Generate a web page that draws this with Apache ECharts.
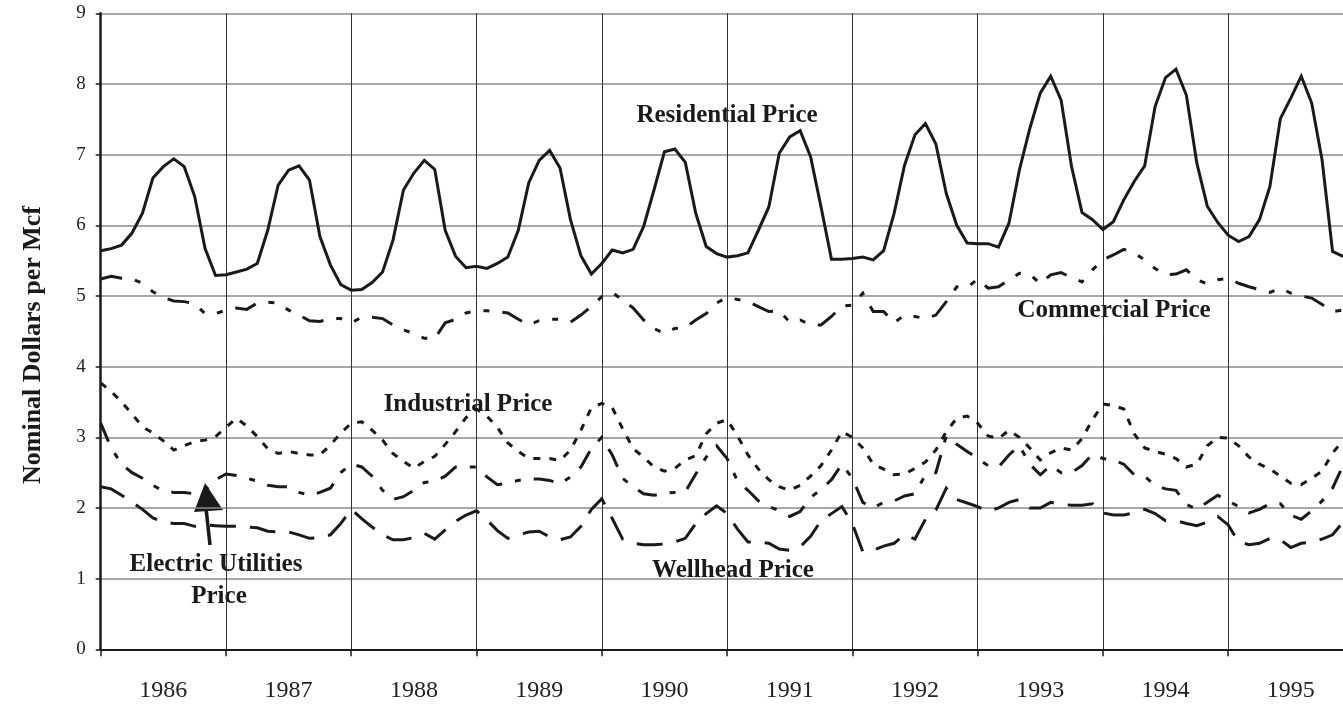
<!DOCTYPE html>
<html>
  <head>
    <meta charset="utf-8" />
    <title>Natural Gas Prices by Sector, 1986-1995</title>
    <script src="https://cdn.jsdelivr.net/npm/echarts@6/dist/echarts.min.js"></script>
    <style>
      html, body { margin: 0; padding: 0; background: #fff; }
    </style>
  </head>
  <body>
    <div id="main" style="width: 1343px; height: 706px"></div>

    <script>
      // monthly values, Jan 1986 - Dec 1995
      var years = ["1986", "1987", "1988", "1989", "1990", "1991", "1992", "1993", "1994", "1995"];
      var months = ["01", "02", "03", "04", "05", "06", "07", "08", "09", "10", "11", "12"];

      var residential = [
        5.64, 5.67, 5.72, 5.89, 6.17, 6.67, 6.83, 6.94, 6.83, 6.41, 5.67, 5.29,
        5.30, 5.34, 5.38, 5.46, 5.93, 6.57, 6.78, 6.84, 6.64, 5.84, 5.44, 5.16,
        5.08, 5.09, 5.19, 5.34, 5.79, 6.50, 6.74, 6.92, 6.79, 5.93, 5.56, 5.40,
        5.42, 5.39, 5.46, 5.55, 5.93, 6.60, 6.92, 7.06, 6.81, 6.08, 5.57, 5.31,
        5.46, 5.65, 5.61, 5.66, 5.98, 6.50, 7.04, 7.08, 6.89, 6.17, 5.70, 5.60,
        5.55, 5.57, 5.61, 5.93, 6.26, 7.02, 7.25, 7.34, 6.97, 6.26, 5.52, 5.52,
        5.53, 5.55, 5.51, 5.64, 6.17, 6.85, 7.28, 7.44, 7.15, 6.45, 6.00, 5.75,
        5.74, 5.74, 5.69, 6.03, 6.78, 7.37, 7.87, 8.11, 7.77, 6.83, 6.18, 6.08,
        5.94, 6.05, 6.36, 6.62, 6.84, 7.68, 8.09, 8.21, 7.84, 6.88, 6.27, 6.04,
        5.86, 5.77, 5.84, 6.08, 6.55, 7.51, 7.80, 8.11, 7.73, 6.92, 5.63, 5.56
      ];
      var commercial = [
        5.24, 5.28, 5.25, 5.24, 5.18, 5.06, 4.98, 4.93, 4.92, 4.89, 4.75, 4.75,
        4.80, 4.83, 4.81, 4.90, 4.91, 4.90, 4.80, 4.73, 4.65, 4.64, 4.68, 4.68,
        4.62, 4.70, 4.70, 4.68, 4.59, 4.52, 4.47, 4.40, 4.40, 4.62, 4.67, 4.76,
        4.79, 4.79, 4.78, 4.76, 4.67, 4.59, 4.65, 4.67, 4.67, 4.63, 4.73, 4.85,
        4.99, 5.05, 4.94, 4.83, 4.66, 4.54, 4.47, 4.54, 4.55, 4.66, 4.75, 4.90,
        4.98, 4.95, 4.92, 4.85, 4.78, 4.79, 4.63, 4.66, 4.59, 4.59, 4.71, 4.86,
        4.87, 5.04, 4.78, 4.78, 4.62, 4.73, 4.71, 4.68, 4.73, 4.92, 5.13, 5.12,
        5.24, 5.11, 5.13, 5.23, 5.32, 5.31, 5.17, 5.30, 5.33, 5.26, 5.20, 5.37,
        5.51, 5.58, 5.66, 5.61, 5.51, 5.39, 5.30, 5.31, 5.37, 5.23, 5.17, 5.23,
        5.25, 5.18, 5.13, 5.09, 5.05, 5.11, 5.04, 5.00, 4.97, 4.88, 4.78, 4.80
      ];
      var industrial = [
        3.77, 3.65, 3.50, 3.33, 3.15, 3.06, 2.95, 2.82, 2.88, 2.94, 2.96, 3.01,
        3.14, 3.27, 3.16, 3.01, 2.84, 2.77, 2.80, 2.77, 2.75, 2.75, 2.89, 3.06,
        3.20, 3.22, 3.10, 2.96, 2.77, 2.66, 2.56, 2.66, 2.73, 2.90, 3.08, 3.28,
        3.40, 3.30, 3.14, 2.92, 2.80, 2.70, 2.70, 2.70, 2.67, 2.82, 3.10, 3.42,
        3.48, 3.42, 3.12, 2.84, 2.72, 2.58, 2.52, 2.56, 2.68, 2.74, 3.05, 3.20,
        3.25, 3.02, 2.75, 2.55, 2.40, 2.30, 2.25, 2.32, 2.45, 2.60, 2.82, 3.08,
        3.00, 2.85, 2.62, 2.55, 2.47, 2.48, 2.56, 2.65, 2.82, 3.08, 3.27, 3.30,
        3.20, 3.02, 2.98, 3.10, 3.00, 2.85, 2.68, 2.78, 2.85, 2.82, 2.98, 3.25,
        3.47, 3.45, 3.40, 3.05, 2.85, 2.80, 2.76, 2.70, 2.58, 2.62, 2.88, 3.00,
        2.99, 2.88, 2.72, 2.62, 2.55, 2.45, 2.35, 2.33, 2.42, 2.52, 2.78, 2.95
      ];
      var electric = [
        3.20, 2.85, 2.62, 2.50, 2.42, 2.32, 2.24, 2.22, 2.22, 2.20, 2.25, 2.40,
        2.48, 2.46, 2.42, 2.38, 2.32, 2.30, 2.30, 2.22, 2.18, 2.22, 2.28, 2.50,
        2.62, 2.58, 2.45, 2.25, 2.12, 2.16, 2.25, 2.36, 2.38, 2.45, 2.58, 2.58,
        2.58, 2.44, 2.33, 2.35, 2.39, 2.41, 2.41, 2.39, 2.34, 2.44, 2.58, 2.84,
        3.00, 2.75, 2.42, 2.30, 2.20, 2.18, 2.21, 2.22, 2.23, 2.48, 2.72, 2.88,
        2.70, 2.38, 2.25, 2.10, 2.02, 1.96, 1.88, 1.95, 2.15, 2.26, 2.40, 2.62,
        2.42, 2.08, 2.00, 2.08, 2.10, 2.17, 2.20, 2.47, 2.50, 3.02, 2.90, 2.80,
        2.70, 2.60, 2.58, 2.75, 2.88, 2.62, 2.47, 2.60, 2.50, 2.50, 2.60, 2.76,
        2.70, 2.68, 2.62, 2.47, 2.45, 2.32, 2.27, 2.25, 2.05, 1.98, 2.08, 2.18,
        2.10, 2.02, 1.93, 1.98, 2.06, 2.06, 1.90, 1.84, 1.96, 2.10, 2.28, 2.60
      ];
      var wellhead = [
        2.30, 2.27, 2.18, 2.08, 1.98, 1.86, 1.80, 1.78, 1.78, 1.74, 1.76, 1.75,
        1.74, 1.74, 1.73, 1.72, 1.67, 1.66, 1.66, 1.62, 1.57, 1.58, 1.62, 1.78,
        1.98, 1.85, 1.73, 1.62, 1.55, 1.55, 1.58, 1.64, 1.56, 1.69, 1.81, 1.90,
        1.96, 1.83, 1.68, 1.57, 1.62, 1.66, 1.67, 1.59, 1.55, 1.59, 1.74, 1.98,
        2.13, 1.85, 1.56, 1.50, 1.48, 1.48, 1.49, 1.52, 1.57, 1.78, 1.92, 2.03,
        1.92, 1.70, 1.52, 1.52, 1.50, 1.42, 1.40, 1.45, 1.60, 1.82, 1.92, 2.02,
        1.78, 1.38, 1.40, 1.46, 1.50, 1.62, 1.56, 1.84, 1.97, 2.28, 2.12, 2.07,
        2.02, 1.95, 2.00, 2.08, 2.12, 2.00, 2.00, 2.08, 2.05, 2.04, 2.04, 2.06,
        1.93, 1.90, 1.90, 1.93, 1.98, 1.92, 1.82, 1.82, 1.78, 1.75, 1.80, 1.88,
        1.76, 1.52, 1.48, 1.50, 1.57, 1.55, 1.44, 1.50, 1.52, 1.56, 1.62, 1.80
      ];

      var categories = [];
      years.forEach(function (y) {
        months.forEach(function (m) {
          categories.push(y + "-" + m);
        });
      });

      var serif = "'Liberation Serif', 'Times New Roman', serif";
      var ink = "#1a1a1a";

      function makeLine(name, data, dash) {
        return {
          name: name,
          type: "line",
          data: data,
          symbol: "none",
          silent: true,
          lineStyle: { color: ink, width: 3, type: dash, cap: "butt", join: "miter" },
        };
      }

      function label(text, cx, cy, size, rot) {
        return {
          type: "text",
          x: cx,
          y: cy,
          rotation: rot || 0,
          style: {
            text: text,
            fill: ink,
            font: "bold " + (size || 25) + "px " + serif,
            textAlign: "center",
            textVerticalAlign: "middle",
          },
        };
      }

      var myChart = echarts.init(document.getElementById("main"));

      var option = {
        animation: false,
        backgroundColor: "#fff",
        grid: { left: 100.7, right: -1.3, top: 13.3, bottom: 56.7, containLabel: false },
        xAxis: {
          type: "category",
          data: categories,
          boundaryGap: false,
          axisLine: { lineStyle: { color: ink, width: 2 } },
          axisTick: {
            show: true,
            interval: function (i) { return i % 12 === 0; },
            length: 7,
            lineStyle: { color: ink, width: 1.5 },
          },
          axisLabel: {
            interval: function (i) { return i % 12 === 6; },
            formatter: function (v) { return v.slice(0, 4); },
            fontFamily: serif,
            fontSize: 24,
            color: "#222",
            margin: 29,
          },
          splitLine: {
            show: true,
            interval: function (i) { return i % 12 === 0; },
            lineStyle: { color: "#333", width: 1 },
          },
        },
        yAxis: {
          type: "value",
          min: 0,
          max: 9,
          interval: 1,
          axisLine: { show: true, lineStyle: { color: ink, width: 2.5 } },
          axisTick: { show: true, length: 5, lineStyle: { color: ink, width: 1.5 } },
          axisLabel: { fontFamily: serif, fontSize: 19, color: "#222", margin: 15 },
          splitLine: { lineStyle: { color: "#8a8a8a", width: 1.5 } },
        },
        series: [
          makeLine("Residential Price", residential, "solid"),
          makeLine("Commercial Price", commercial, [22, 13, 6, 13, 6, 13]),
          makeLine("Industrial Price", industrial, [7, 9]),
          makeLine("Electric Utilities Price", electric, [20, 13, 6, 13]),
          makeLine("Wellhead Price", wellhead, [26, 14]),
        ],
        graphic: [
          label("Nominal Dollars per Mcf", 33, 345, 26, Math.PI / 2),
          label("Residential Price", 727, 116),
          label("Commercial Price", 1114, 311),
          label("Industrial Price", 468, 405),
          label("Wellhead Price", 733, 571),
          label("Electric Utilities", 216, 565),
          label("Price", 219, 597),
          {
            type: "line",
            shape: { x1: 210, y1: 545, x2: 206, y2: 508 },
            style: { stroke: ink, lineWidth: 3.5 },
          },
          {
            type: "polygon",
            shape: { points: [[205, 483], [194, 512], [223, 510]] },
            style: { fill: ink },
          },
        ],
      };

      myChart.setOption(option);
    </script>
  </body>
</html>
